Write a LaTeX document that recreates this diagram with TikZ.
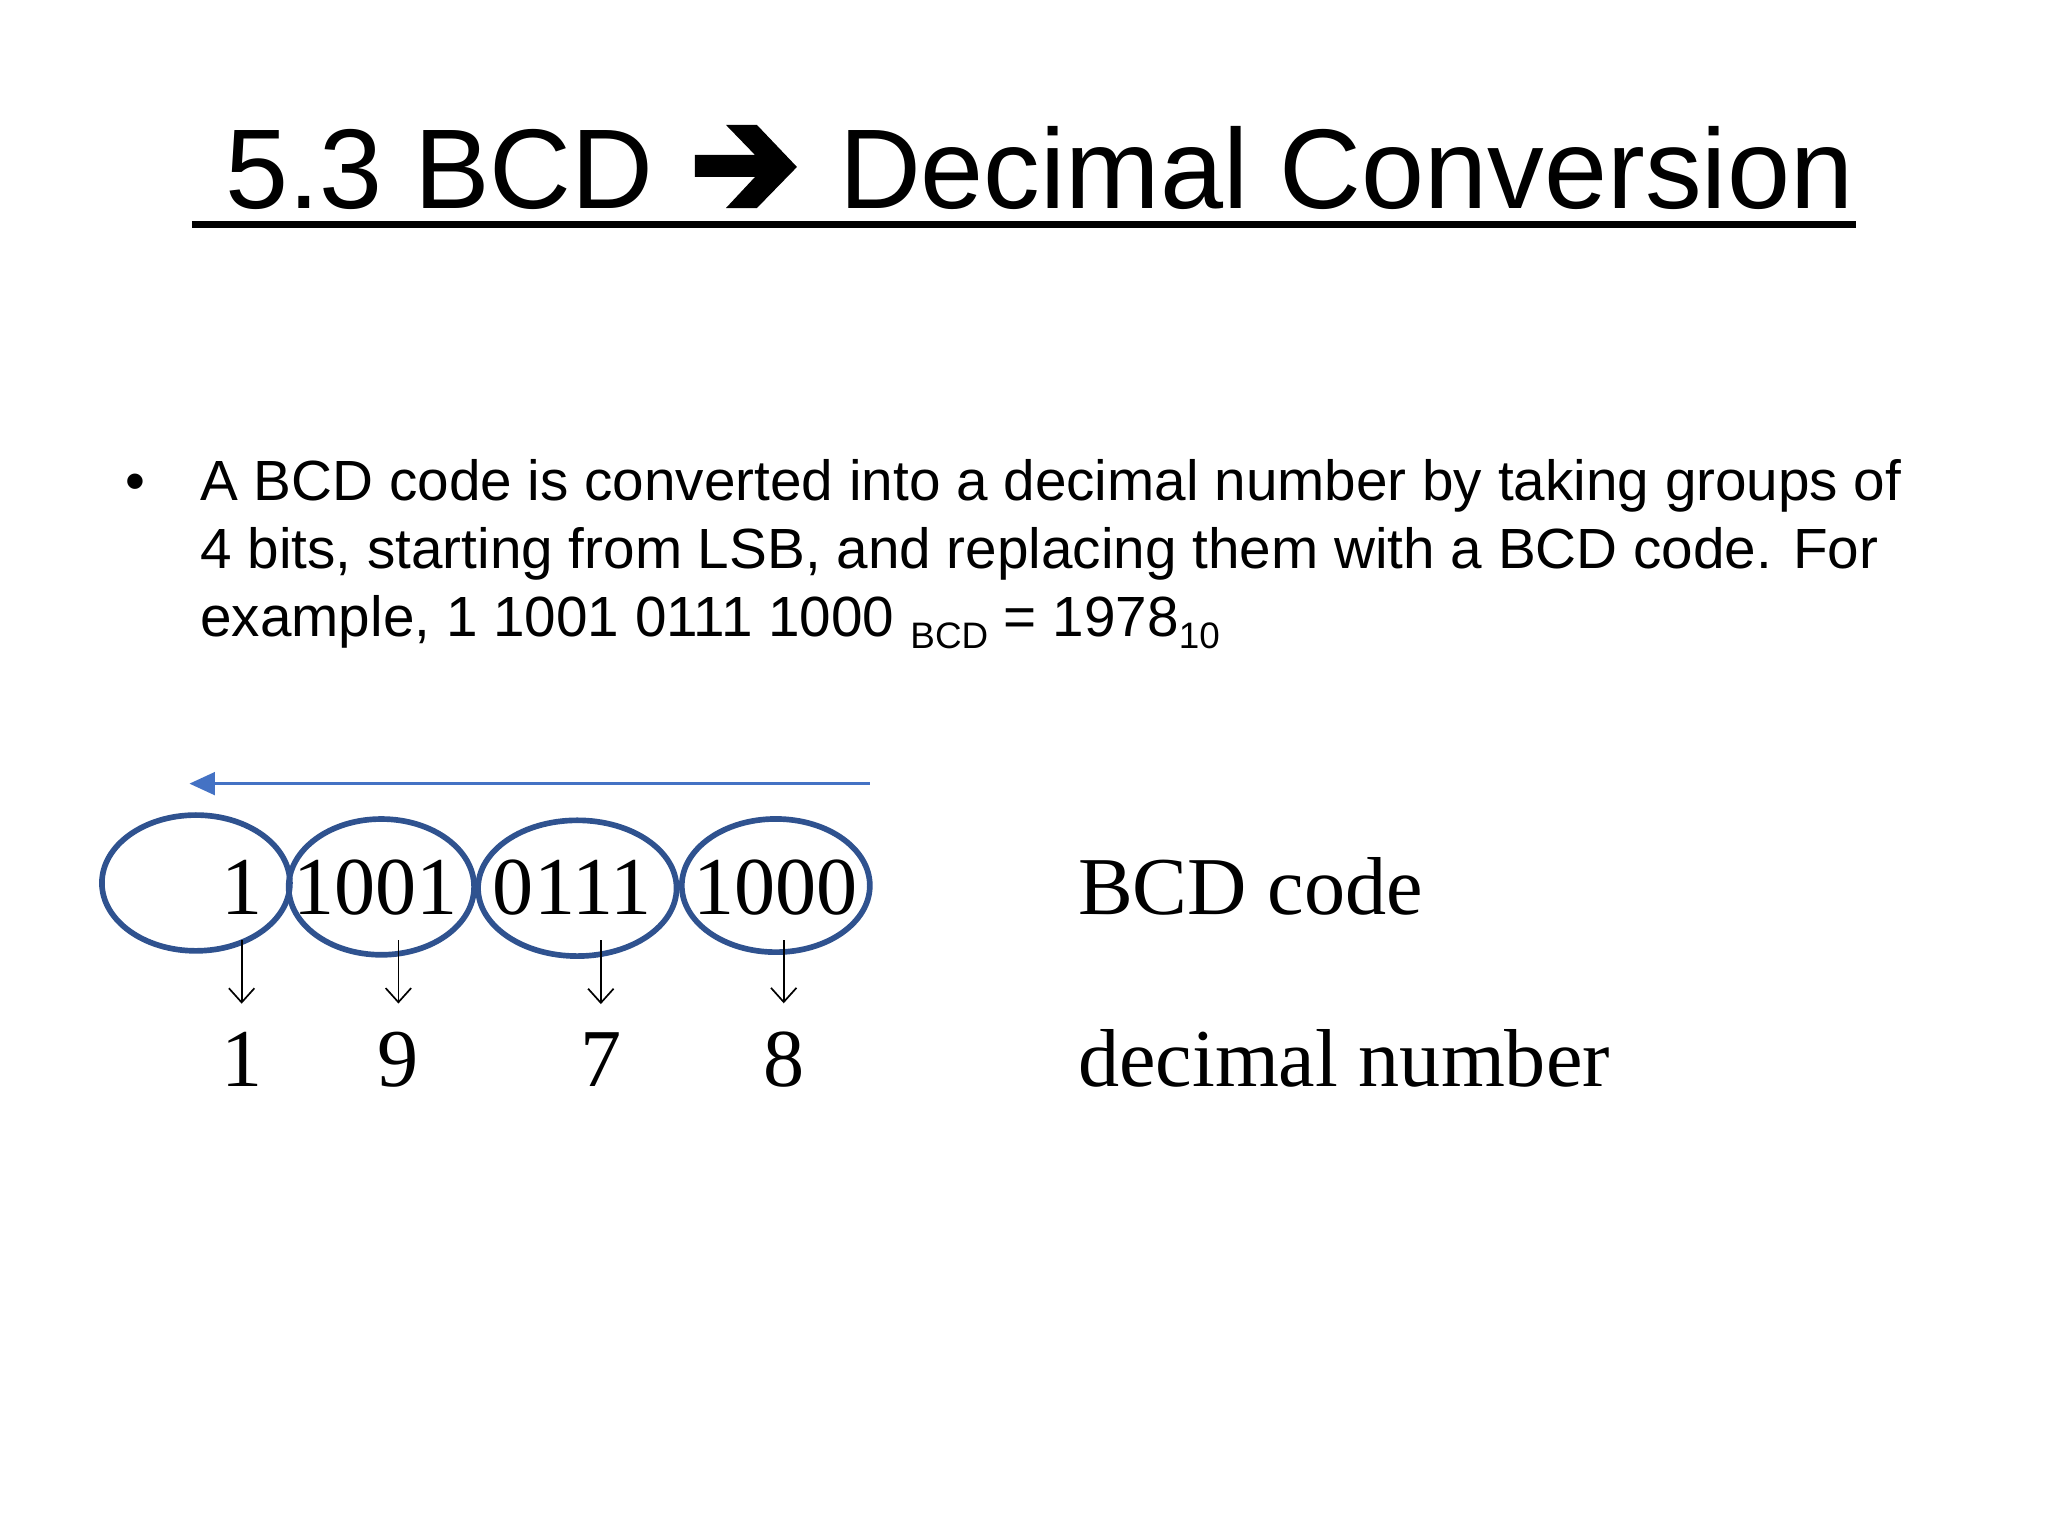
\documentclass[tikz,border=0pt]{standalone}
\usepackage{fontspec}
\setmainfont{Liberation Sans}
\newfontfamily\figfont{Liberation Serif}
\usepackage{xcolor}
\usetikzlibrary{shapes.geometric,arrows.meta}
\definecolor{ringblue}{RGB}{47,82,143}
\definecolor{scanblue}{RGB}{68,114,196}
\newcommand{\subtxt}[1]{\raisebox{-4.5pt}{\fontsize{13}{13}\selectfont #1}}

\begin{document}
\begin{tikzpicture}[
  grp/.style={draw=ringblue, line width=2pt, ellipse, inner sep=0pt},
  bcdtxt/.style={font=\figfont\fontsize{29}{29}\selectfont, inner sep=0pt, anchor=base},
  bodytxt/.style={font=\fontsize{20}{24}\selectfont, inner sep=0pt, anchor=base west},
  titletxt/.style={font=\fontsize{40}{48}\selectfont, inner sep=0pt, anchor=base west},
  downarr/.style={-{Straight Barb[length=5pt,width=9pt]}, line width=0.6pt, black, shorten >=0.35cm}]
  \useasboundingbox (0,0) rectangle (25.4,19.05);
  \node[titletxt] (titleL) at (2.786,16.458) {5.3 BCD};
  \node[titletxt] (titleR) at (10.40,16.458) {Decimal Conversion};
  \fill (8.619,17.128) -- (9.364,17.128) -- (9.004,17.500) -- (9.388,17.500) -- (9.884,16.979)
    -- (9.388,16.470) -- (9.004,16.470) -- (9.364,16.855) -- (8.619,16.855) -- cycle;
  \draw[line width=2.4pt] (2.381,16.264) -- (23.02,16.264);
  \node[bodytxt] (bullet) at (1.555,12.846) {•};
  \node[bodytxt] (line1) at (2.478,12.846) {A BCD code is converted into a decimal number by taking groups of};
  \node[bodytxt] (line2) at (2.478,12.004) {4 bits, starting from LSB, and replacing them with a BCD code. For};
  \node[bodytxt] (line3) at (2.478,11.161) {example, 1 1001 0111 1000 \subtxt{BCD} = 1978\subtxt{10}};
  \node[grp, minimum width=2.332cm, minimum height=1.684cm] (g1) at (2.430,8.099) {};
  \node[grp, minimum width=2.300cm, minimum height=1.684cm] (g2) at (4.730,8.050) {};
  \node[grp, minimum width=2.462cm, minimum height=1.684cm] (g3) at (7.160,8.034) {};
  \node[grp, minimum width=2.332cm, minimum height=1.652cm] (g4) at (9.622,8.067) {};
  \node[bcdtxt] (c1) at (2.997,7.711) {1};
  \node[bcdtxt] (c2) at (4.657,7.711) {1001};
  \node[bcdtxt] (c3) at (7.095,7.711) {0111};
  \node[bcdtxt] (c4) at (9.614,7.711) {1000};
  \node[bcdtxt] (d1) at (2.997,5.572) {1};
  \node[bcdtxt] (d2) at (4.941,5.572) {9};
  \node[bcdtxt] (d3) at (7.452,5.572) {7};
  \node[bcdtxt] (d4) at (9.720,5.572) {8};
  \node[bcdtxt, anchor=base west] (codelbl) at (13.364,7.711) {BCD code};
  \node[bcdtxt, anchor=base west] (declbl) at (13.364,5.572) {decimal number};
  \coordinate (scanR) at (10.789,9.331);
  \coordinate (scanL) at (2.349,9.331);
  \draw[scanblue, line width=1pt, -{Triangle[length=9pt,width=8pt]}] (scanR) -- (scanL);
  \foreach \i in {1,...,4} {
    \coordinate (t\i) at (d\i |- 0,7.387);
    \draw[downarr] (t\i) -- (d\i.north);
  }
\end{tikzpicture}
\end{document}
